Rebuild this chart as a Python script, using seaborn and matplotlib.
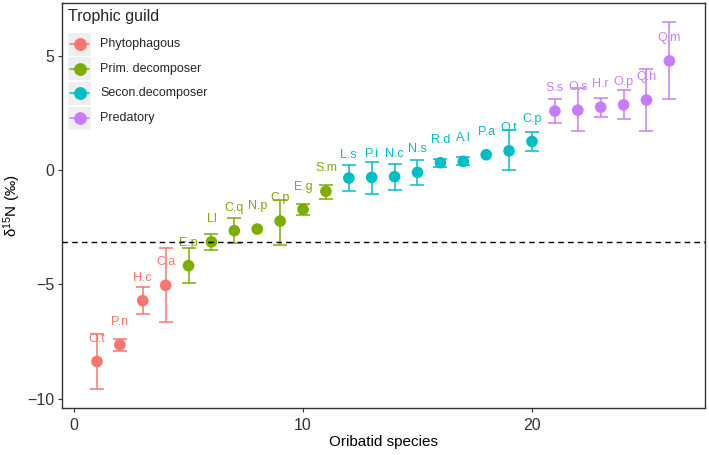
import numpy as np
import pandas as pd
import matplotlib
matplotlib.use("Agg")
import matplotlib.pyplot as plt
import seaborn as sns
from matplotlib.lines import Line2D
from matplotlib.patches import Rectangle
from matplotlib.transforms import IdentityTransform

species = ["O.t", "P.n", "H.c", "C.a", "E.p", "Ll", "C.q", "N.p", "C.p", "E.g",
           "S.m", "L.s", "P.i", "N.c", "N.s", "R.d", "A.l", "P.a", "O.t", "C.p",
           "S.s", "O.s", "H.r", "O.p", "Q.h", "Q.m"]
order = list(range(1, 27))
guild = (["Phytophagous"] * 4 + ["Prim. decomposer"] * 7 +
         ["Secon.decomposer"] * 9 + ["Predatory"] * 6)
d15n = [-8.37, -7.64, -5.71, -5.04, -4.18, -3.14, -2.65, -2.58, -2.23, -1.72,
        -0.93, -0.35, -0.32, -0.29, -0.10, 0.32, 0.38, 0.67, 0.84, 1.25,
        2.58, 2.62, 2.75, 2.85, 3.06, 4.77]
upper = [-7.18, -7.39, -5.12, -3.42, -3.41, -2.79, -2.11, np.nan, -1.31, -1.50,
         -0.64, 0.20, 0.36, 0.26, 0.42, 0.48, 0.55, np.nan, 1.75, 1.66,
         3.10, 3.59, 3.16, 3.48, 4.40, 6.49]
lower = [-9.58, -7.92, -6.30, -6.64, -4.95, -3.48, -3.19, np.nan, -3.26, -1.97,
         -1.25, -0.90, -1.06, -0.87, -0.64, 0.14, 0.20, np.nan, -0.01, 0.83,
         2.04, 1.69, 2.33, 2.24, 1.70, 3.09]
ref_line = -3.13
guild_levels = ["Phytophagous", "Prim. decomposer", "Secon.decomposer", "Predatory"]
palette = ["#F8766D", "#7CAE00", "#00BFC4", "#C77CFF"]

df = pd.DataFrame({"x": order, "y": d15n, "lo": lower, "hi": upper,
                   "guild": guild, "label": species})
cmap = dict(zip(guild_levels, palette))

sns.set_theme(style="white")
plt.rcParams["font.family"] = ["Liberation Sans", "DejaVu Sans"]
plt.rcParams["mathtext.fontset"] = "custom"
plt.rcParams["mathtext.rm"] = "Liberation Sans"
plt.rcParams["mathtext.it"] = "Liberation Sans:italic"
plt.rcParams["mathtext.default"] = "regular"

W, H = 709, 455
fig = plt.figure(figsize=(W / 100, H / 100), dpi=100)
ax = fig.add_axes([0.087, 0.104, 0.9948 - 0.087, 0.9927 - 0.104])

for g in guild_levels:
    sub = df[(df.guild == g) & df.hi.notna()]
    ax.errorbar(sub.x, sub.y, yerr=[sub.y - sub.lo, sub.hi - sub.y], fmt="none",
                ecolor=cmap[g], elinewidth=1.1, capsize=4.8, capthick=1.1, zorder=2)

sns.scatterplot(data=df, x="x", y="y", hue="guild", hue_order=guild_levels,
                palette=palette, s=70, linewidth=0, ax=ax, legend=False, zorder=3)

for _, r in df.iterrows():
    ax.text(r.x, r.y + 1.0, r.label, color=cmap[r.guild], fontsize=9,
            ha="center", va="center", zorder=4)

ax.axhline(ref_line, color="black", lw=1.0, dashes=(4, 3), zorder=5)

ax.set_xlim(-0.54, 27.57)
ax.set_ylim(-10.39, 7.29)
ax.set_xticks([0, 10, 20])
ax.set_yticks([-10, -5, 0, 5])
ax.set_xticklabels(["0", "10", "20"])
ax.set_yticklabels(["\u221210", "\u22125", "0", "5"])
ax.tick_params(axis="both", which="both", direction="out", length=3.2, width=0.8,
               color="#333333", labelsize=11.5, labelcolor="#333333",
               bottom=True, left=True)
ax.tick_params(axis="x", pad=4)
ax.tick_params(axis="y", pad=2)
for sp in ax.spines.values():
    sp.set_color("#333333")
    sp.set_linewidth(1.0)
ax.grid(False)
ax.set_xlabel("Oribatid species", fontsize=11, color="black", labelpad=2)
ax.set_ylabel(r"$\delta^{15}$N (‰)", fontsize=11, color="black", labelpad=3)

# legend drawn manually (ggplot-style keys with grey background)
ident = IdentityTransform()
key_left, key_w, key_h = 68, 23, 23
fig.text(key_left, H - 17, "Trophic guild", transform=ident, fontsize=11.5,
         ha="left", va="center", zorder=10)
for i, (lab, c) in enumerate(zip(guild_levels, palette)):
    cy = H - (44 + i * 24.7)
    fig.add_artist(Rectangle((key_left, cy - key_h / 2), key_w, key_h,
                             transform=ident, facecolor="#EFEFEF",
                             edgecolor="none", zorder=9))
    fig.add_artist(Line2D([key_left + 2, key_left + key_w - 2], [cy, cy],
                          transform=ident, color=c, lw=1.1, zorder=10))
    fig.add_artist(Line2D([key_left + key_w / 2], [cy], transform=ident,
                          color=c, marker="o", markersize=8.2, lw=0, zorder=11))
    fig.text(100, cy, lab, transform=ident, fontsize=9, ha="left",
             va="center", zorder=10)

fig.savefig("out.png", dpi=100)
